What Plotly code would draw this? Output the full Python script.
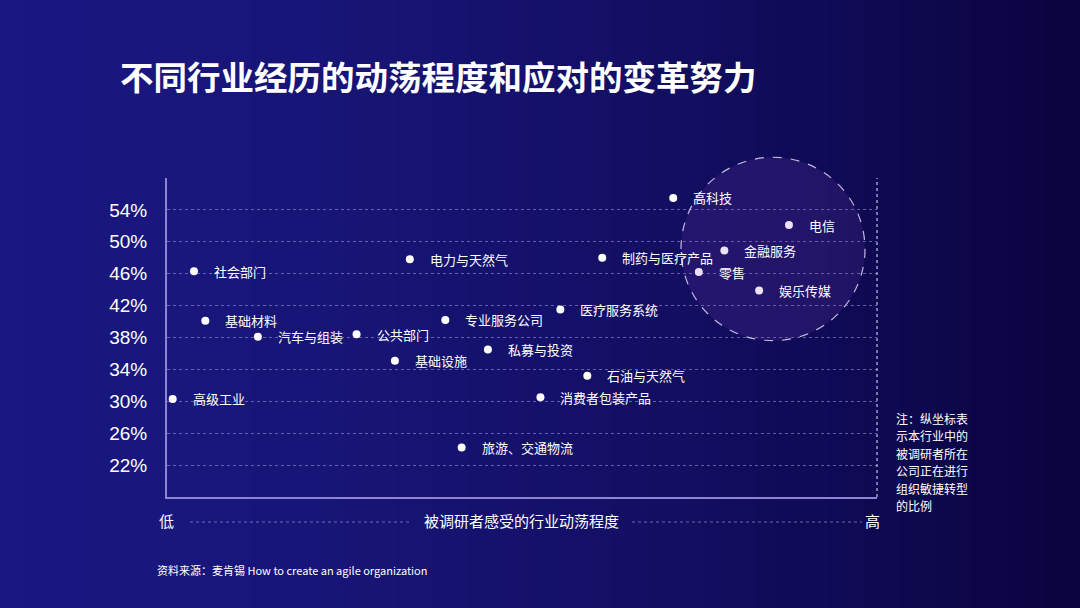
import plotly.graph_objects as go

# industries, x = perceived disruption (0 low .. 100 high), y = share in agile transformation (%)
industries = ["高级工业", "社会部门", "基础材料", "汽车与组装", "公共部门", "基础设施",
              "电力与天然气", "专业服务公司", "私募与投资", "旅游、交通物流", "医疗服务系统",
              "消费者包装产品", "石油与天然气", "制药与医疗产品", "高科技", "零售",
              "金融服务", "电信", "娱乐传媒"]
disruption = [0.8, 3.8, 5.4, 12.8, 26.7, 32.1, 34.2, 39.2, 45.2, 41.5, 55.4,
              52.6, 59.2, 61.3, 71.3, 74.9, 78.5, 87.6, 83.4]
agile_share = [30.3, 46.3, 40.1, 38.1, 38.4, 35.1, 47.8, 40.2, 36.5, 24.2, 41.5,
               30.5, 33.2, 48.0, 55.5, 46.2, 48.9, 52.1, 43.9]
y_ticks = [22, 26, 30, 34, 38, 42, 46, 50, 54]
y_tick_labels = [f"{v}%" for v in y_ticks]

title = "不同行业经历的动荡程度和应对的变革努力"
x_title = "被调研者感受的行业动荡程度"
note_lines = ["注：纵坐标表", "示本行业中的", "被调研者所在", "公司正在进行", "组织敏捷转型", "的比例"]
source = "资料来源：麦肯锡 How to create an agile organization"

W, H = 1080, 608
L, R, T, B = 167, 203, 178, 111
PW, PH = W - L - R, H - T - B
X_RANGE = [0, 100]
Y_RANGE = [18, 58]
font_main = "Noto Sans CJK SC, Noto Sans, sans-serif"


def px_x(v):
    return (v - X_RANGE[0]) / (X_RANGE[1] - X_RANGE[0])


def px_y(v):
    return (v - Y_RANGE[0]) / (Y_RANGE[1] - Y_RANGE[0])


fig = go.Figure()

fig.add_trace(go.Scatter(
    x=disruption, y=agile_share, mode="markers",
    marker=dict(size=8, color="white"),
    hoverinfo="text", text=industries, showlegend=False))

shapes = []
# background gradient (left blue -> right dark navy)
n = 60
c0, c1 = (26, 24, 128), (11, 4, 64)
for i in range(n):
    t = i / (n - 1)
    t2 = t ** 1.6
    col = tuple(int(c0[k] + (c1[k] - c0[k]) * t2) for k in range(3))
    x0 = -L / PW + i * (W / PW) / n
    x1 = x0 + (W / PW) / n + 0.002
    shapes.append(dict(type="rect", xref="paper", yref="paper", layer="below",
                       x0=x0, x1=x1, y0=-B / PH - 0.05, y1=1 + T / PH + 0.05,
                       fillcolor="rgb(%d,%d,%d)" % col, line=dict(width=0)))

# highlight circle around the high-disruption cluster (paper refs so it is not clipped)
cx, cy, rx, ry = 85.35, 49.1, 12.96, 11.5
shapes.append(dict(type="circle", xref="paper", yref="paper", layer="above",
                   x0=px_x(cx - rx), x1=px_x(cx + rx), y0=px_y(cy - ry), y1=px_y(cy + ry),
                   fillcolor="rgba(130,70,190,0.16)",
                   line=dict(color="rgba(225,215,245,0.85)", width=1.2, dash="dash")))

# right dashed border
shapes.append(dict(type="line", xref="paper", yref="paper", x0=1, x1=1, y0=0, y1=1,
                   line=dict(color="rgba(200,190,235,0.8)", width=1.5, dash="dot")))

# dotted guide lines on x-axis title row
guide_y = -(522 - 497) / PH
shapes.append(dict(type="line", xref="paper", yref="paper",
                   x0=(190 - L) / PW, x1=(410 - L) / PW, y0=guide_y, y1=guide_y,
                   line=dict(color="rgba(170,160,220,0.6)", width=1, dash="dot")))
shapes.append(dict(type="line", xref="paper", yref="paper",
                   x0=(632 - L) / PW, x1=(862 - L) / PW, y0=guide_y, y1=guide_y,
                   line=dict(color="rgba(170,160,220,0.6)", width=1, dash="dot")))

annotations = []
for name, xv, yv in zip(industries, disruption, agile_share):
    annotations.append(dict(x=xv, y=yv, xref="x", yref="y", text=name,
                            showarrow=False, xanchor="left", yanchor="middle",
                            xshift=18, font=dict(size=13, color="white", family=font_main)))

annotations.append(dict(x=-L / PW + 118 / PW, y=1 + (178 - 75) / PH, xref="paper", yref="paper",
                        text="<b>" + title + "</b>", showarrow=False, xanchor="left",
                        yanchor="middle", font=dict(size=33.5, color="white", family=font_main)))
annotations.append(dict(x=(166 - L) / PW, y=-(520 - 497) / PH, xref="paper", yref="paper",
                        text="低", showarrow=False, xanchor="center", yanchor="middle",
                        font=dict(size=15, color="white", family=font_main)))
annotations.append(dict(x=(872 - L) / PW, y=-(520 - 497) / PH, xref="paper", yref="paper",
                        text="高", showarrow=False, xanchor="center", yanchor="middle",
                        font=dict(size=15, color="white", family=font_main)))
annotations.append(dict(x=(521 - L) / PW, y=-(520 - 497) / PH, xref="paper", yref="paper",
                        text=x_title, showarrow=False, xanchor="center", yanchor="middle",
                        font=dict(size=15, color="white", family=font_main)))
# side note, one annotation per line
for i, line in enumerate(note_lines):
    yc = 418 + i * 17.5
    annotations.append(dict(x=(895 - L) / PW, y=-(yc - 497) / PH, xref="paper", yref="paper",
                            text=line, showarrow=False, xanchor="left", yanchor="middle",
                            borderpad=0,
                            font=dict(size=12, color="white", family=font_main)))
annotations.append(dict(x=(155 - L) / PW, y=-(570 - 497) / PH, xref="paper", yref="paper",
                        text=source, showarrow=False, xanchor="left", yanchor="middle",
                        font=dict(size=11, color="white", family=font_main)))

fig.update_layout(
    width=W, height=H,
    margin=dict(l=L, r=R, t=T, b=B),
    paper_bgcolor="#130f6e", plot_bgcolor="rgba(0,0,0,0)",
    shapes=shapes, annotations=annotations,
    xaxis=dict(range=X_RANGE, showgrid=False, zeroline=False, showticklabels=False,
               showline=True, linecolor="#8d84d6", linewidth=2, fixedrange=True),
    yaxis=dict(range=Y_RANGE, tickvals=y_ticks, ticktext=y_tick_labels,
               showgrid=True, gridcolor="rgba(170,160,225,0.55)", gridwidth=1, griddash="dot",
               zeroline=False, showline=True, linecolor="#8d84d6", linewidth=2,
               ticks="", ticklabelstandoff=14,
               tickfont=dict(size=19, color="white", family="Liberation Sans, Arial, sans-serif")),
    font=dict(family=font_main, color="white"),
)

# drop the default page margin so the figure fills the window
fig.write_html("out.html", config={"displayModeBar": False},
               post_script="document.body.style.margin='0';")
